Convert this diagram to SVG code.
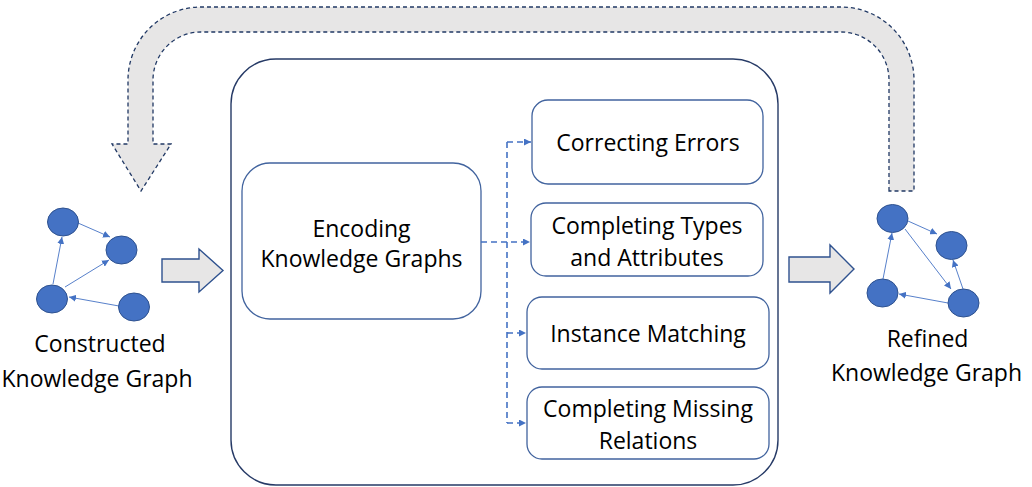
<svg xmlns="http://www.w3.org/2000/svg" width="1032" height="487" viewBox="0 0 1032 487">
<style>
text{font-family:"Open Sans","Liberation Sans",sans-serif;font-size:23px;fill:#000;text-anchor:middle;dominant-baseline:central}
.box{fill:#fff;stroke:#41639e;stroke-width:1.3}
.big{fill:#fff;stroke:#263a66;stroke-width:1.4}
.blk{fill:#e7e6e6;stroke:#2f528f;stroke-width:1.4}
.node{fill:#4472c4;stroke:#2f528f;stroke-width:1}
.edge{stroke:#4472c4;stroke-width:0.9;fill:none;marker-end:url(#ah)}
.dash{stroke:#4472c4;stroke-width:1.6;fill:none;stroke-dasharray:6,4}
</style>
<defs>
<marker id="ah" viewBox="0 0 10 10" refX="10" refY="5" markerWidth="7" markerHeight="7" markerUnits="userSpaceOnUse" orient="auto"><path d="M0,0 L10,5 L0,10 z" fill="#4472c4"/></marker>
<marker id="dh" viewBox="0 0 10 10" refX="10" refY="5" markerWidth="7" markerHeight="7" markerUnits="userSpaceOnUse" orient="auto"><path d="M0,0 L10,5 L0,10 z" fill="#4472c4"/></marker>
</defs>
<g id="feedback-arrow">
<path d="M889,191 L889,80 A48,48 0 0 0 841,32 L201,32 A48,48 0 0 0 153,80 L153,144 L171,144 L141,191 L112,144 L128,144 L128,80 A73,73 0 0 1 201,7 L841,7 A73,73 0 0 1 914,80 L914,191 Z" fill="#e7e6e6" stroke="#203864" stroke-width="1.3" stroke-dasharray="4,3"/>
</g>
<g id="container"><rect class="big" x="231" y="59" width="547" height="426" rx="45"/></g>
<g id="arrow-in"><path class="blk" d="M162,259 L199,259 L199,249 L223,270.5 L199,292 L199,282 L162,282 Z"/></g>
<g id="arrow-out"><path class="blk" d="M789,257 L830,257 L830,245 L854,269 L830,293 L830,282 L789,282 Z"/></g>
<g id="encoding"><rect class="box" x="242" y="163" width="239" height="156" rx="28"/>
<text x="361.5" y="228">Encoding</text><text x="361.5" y="258">Knowledge Graphs</text></g>
<g id="correcting-errors"><rect class="box" x="532" y="100" width="231" height="84" rx="16"/>
<text x="648" y="142">Correcting Errors</text></g>
<g id="completing-types"><rect class="box" x="531" y="203" width="232" height="73" rx="15"/>
<text x="647" y="225">Completing Types</text><text x="647" y="257">and Attributes</text></g>
<g id="instance-matching"><rect class="box" x="527" y="297" width="242" height="72" rx="15"/>
<text x="648" y="333">Instance Matching</text></g>
<g id="completing-missing"><rect class="box" x="527" y="387" width="242" height="72" rx="15"/>
<text x="648" y="408">Completing Missing</text><text x="648" y="440">Relations</text></g>
<g id="connectors">
<path class="dash" d="M481,242 L530,242" marker-end="url(#dh)"/>
<path class="dash" d="M507,142 L507,423"/>
<path class="dash" d="M507,142 L531,142" marker-end="url(#dh)"/>
<path class="dash" d="M507,333 L526,333" marker-end="url(#dh)"/>
<path class="dash" d="M507,423 L526,423" marker-end="url(#dh)"/>
</g>
<g id="constructed-graph">
<line class="edge" x1="78" y1="223" x2="110" y2="237"/>
<line class="edge" x1="53" y1="284" x2="62" y2="237"/>
<line class="edge" x1="65" y1="287" x2="109" y2="260"/>
<line class="edge" x1="119" y1="306" x2="69" y2="297"/>
<ellipse class="node" cx="63" cy="222" rx="15.5" ry="14"/>
<ellipse class="node" cx="121.5" cy="250" rx="15.5" ry="14"/>
<ellipse class="node" cx="52" cy="299" rx="15.5" ry="14"/>
<ellipse class="node" cx="134" cy="307" rx="15.5" ry="14"/>
<text x="100" y="343">Constructed</text><text x="97" y="378">Knowledge Graph</text>
</g>
<g id="refined-graph">
<line class="edge" x1="908" y1="221" x2="937" y2="234"/>
<line class="edge" x1="883" y1="279" x2="892" y2="233"/>
<line class="edge" x1="905" y1="229" x2="951" y2="289"/>
<line class="edge" x1="948" y1="303" x2="899" y2="294"/>
<line class="edge" x1="963" y1="289" x2="953" y2="260"/>
<ellipse class="node" cx="892.5" cy="218.5" rx="15.5" ry="14"/>
<ellipse class="node" cx="951.5" cy="245.5" rx="15.5" ry="14"/>
<ellipse class="node" cx="882.5" cy="293" rx="15.5" ry="14"/>
<ellipse class="node" cx="963.5" cy="303" rx="15.5" ry="14"/>
<text x="927.5" y="338">Refined</text><text x="926.5" y="372">Knowledge Graph</text>
</g>
</svg>
